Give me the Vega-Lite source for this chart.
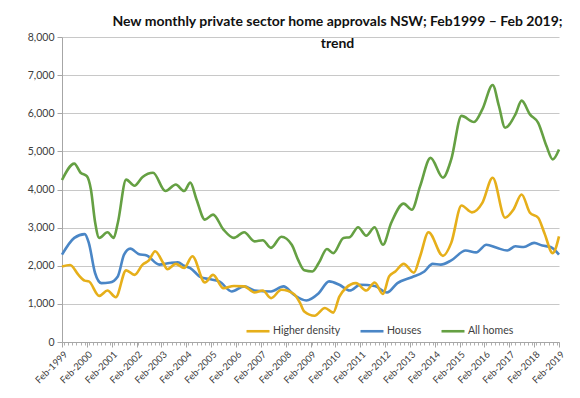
{
  "$schema": "https://vega.github.io/schema/vega-lite/v6.json",
  "width": 497,
  "height": 305,
  "autosize": "none",
  "padding": {"left": 62, "top": 37, "right": 21, "bottom": 56},
  "background": "white",
  "title": {
    "text": ["New monthly private sector home approvals NSW; Feb1999 – Feb 2019;", "trend"],
    "anchor": "middle",
    "dx": 27,
    "offset": -19,
    "font": "Lato",
    "fontSize": 14,
    "fontWeight": "bold",
    "color": "#111111",
    "lineHeight": 22
  },
  "config": {
    "view": {"stroke": null},
    "font": "Lato"
  },
  "data": {
    "values": [
      {"date": "1999-02-01", "series": "All homes", "value": 4250},
      {"date": "1999-08-01", "series": "All homes", "value": 4680},
      {"date": "1999-11-01", "series": "All homes", "value": 4440},
      {"date": "2000-02-01", "series": "All homes", "value": 4350},
      {"date": "2000-04-01", "series": "All homes", "value": 4000},
      {"date": "2000-06-01", "series": "All homes", "value": 3150},
      {"date": "2000-08-01", "series": "All homes", "value": 2730},
      {"date": "2000-12-01", "series": "All homes", "value": 2880},
      {"date": "2001-03-01", "series": "All homes", "value": 2730},
      {"date": "2001-05-01", "series": "All homes", "value": 3120},
      {"date": "2001-09-01", "series": "All homes", "value": 4260},
      {"date": "2002-01-01", "series": "All homes", "value": 4100},
      {"date": "2002-05-01", "series": "All homes", "value": 4330},
      {"date": "2002-10-01", "series": "All homes", "value": 4440},
      {"date": "2003-04-01", "series": "All homes", "value": 3960},
      {"date": "2003-09-01", "series": "All homes", "value": 4130},
      {"date": "2004-01-01", "series": "All homes", "value": 3960},
      {"date": "2004-04-01", "series": "All homes", "value": 4180},
      {"date": "2004-07-01", "series": "All homes", "value": 3740},
      {"date": "2004-11-01", "series": "All homes", "value": 3210},
      {"date": "2005-03-01", "series": "All homes", "value": 3340},
      {"date": "2005-08-01", "series": "All homes", "value": 2950},
      {"date": "2006-01-01", "series": "All homes", "value": 2730},
      {"date": "2006-06-01", "series": "All homes", "value": 2880},
      {"date": "2006-11-01", "series": "All homes", "value": 2640},
      {"date": "2007-03-01", "series": "All homes", "value": 2670},
      {"date": "2007-07-01", "series": "All homes", "value": 2470},
      {"date": "2007-12-01", "series": "All homes", "value": 2760},
      {"date": "2008-05-01", "series": "All homes", "value": 2550},
      {"date": "2008-08-01", "series": "All homes", "value": 2160},
      {"date": "2008-11-01", "series": "All homes", "value": 1880},
      {"date": "2009-03-01", "series": "All homes", "value": 1850},
      {"date": "2009-06-01", "series": "All homes", "value": 2070},
      {"date": "2009-10-01", "series": "All homes", "value": 2440},
      {"date": "2010-01-01", "series": "All homes", "value": 2330},
      {"date": "2010-06-01", "series": "All homes", "value": 2730},
      {"date": "2010-09-01", "series": "All homes", "value": 2750},
      {"date": "2011-01-01", "series": "All homes", "value": 3010},
      {"date": "2011-05-01", "series": "All homes", "value": 2790},
      {"date": "2011-09-01", "series": "All homes", "value": 3010},
      {"date": "2012-01-01", "series": "All homes", "value": 2550},
      {"date": "2012-05-01", "series": "All homes", "value": 3120},
      {"date": "2012-11-01", "series": "All homes", "value": 3630},
      {"date": "2013-03-01", "series": "All homes", "value": 3470},
      {"date": "2013-07-01", "series": "All homes", "value": 4090},
      {"date": "2013-12-01", "series": "All homes", "value": 4830},
      {"date": "2014-06-01", "series": "All homes", "value": 4310},
      {"date": "2014-10-01", "series": "All homes", "value": 4790},
      {"date": "2015-03-01", "series": "All homes", "value": 5930},
      {"date": "2015-09-01", "series": "All homes", "value": 5770},
      {"date": "2016-01-01", "series": "All homes", "value": 6100},
      {"date": "2016-06-01", "series": "All homes", "value": 6740},
      {"date": "2016-09-01", "series": "All homes", "value": 6190},
      {"date": "2016-12-01", "series": "All homes", "value": 5620},
      {"date": "2017-05-01", "series": "All homes", "value": 5970},
      {"date": "2017-08-01", "series": "All homes", "value": 6330},
      {"date": "2017-12-01", "series": "All homes", "value": 5970},
      {"date": "2018-04-01", "series": "All homes", "value": 5750},
      {"date": "2018-08-01", "series": "All homes", "value": 5140},
      {"date": "2018-11-01", "series": "All homes", "value": 4790},
      {"date": "2019-02-01", "series": "All homes", "value": 5050},

      {"date": "1999-02-01", "series": "Houses", "value": 2290},
      {"date": "1999-08-01", "series": "Houses", "value": 2730},
      {"date": "2000-01-01", "series": "Houses", "value": 2830},
      {"date": "2000-03-01", "series": "Houses", "value": 2600},
      {"date": "2000-06-01", "series": "Houses", "value": 1810},
      {"date": "2000-09-01", "series": "Houses", "value": 1545},
      {"date": "2001-01-01", "series": "Houses", "value": 1560},
      {"date": "2001-05-01", "series": "Houses", "value": 1720},
      {"date": "2001-08-01", "series": "Houses", "value": 2290},
      {"date": "2001-11-01", "series": "Houses", "value": 2450},
      {"date": "2002-03-01", "series": "Houses", "value": 2310},
      {"date": "2002-07-01", "series": "Houses", "value": 2270},
      {"date": "2003-01-01", "series": "Houses", "value": 2030},
      {"date": "2003-06-01", "series": "Houses", "value": 2070},
      {"date": "2003-10-01", "series": "Houses", "value": 2090},
      {"date": "2004-01-01", "series": "Houses", "value": 2000},
      {"date": "2004-04-01", "series": "Houses", "value": 1940},
      {"date": "2004-09-01", "series": "Houses", "value": 1700},
      {"date": "2005-01-01", "series": "Houses", "value": 1650},
      {"date": "2005-06-01", "series": "Houses", "value": 1590},
      {"date": "2005-12-01", "series": "Houses", "value": 1325},
      {"date": "2006-06-01", "series": "Houses", "value": 1460},
      {"date": "2006-11-01", "series": "Houses", "value": 1350},
      {"date": "2007-07-01", "series": "Houses", "value": 1325},
      {"date": "2008-01-01", "series": "Houses", "value": 1460},
      {"date": "2008-06-01", "series": "Houses", "value": 1240},
      {"date": "2008-12-01", "series": "Houses", "value": 1090},
      {"date": "2009-06-01", "series": "Houses", "value": 1280},
      {"date": "2009-11-01", "series": "Houses", "value": 1590},
      {"date": "2010-04-01", "series": "Houses", "value": 1500},
      {"date": "2010-09-01", "series": "Houses", "value": 1350},
      {"date": "2011-02-01", "series": "Houses", "value": 1500},
      {"date": "2011-09-01", "series": "Houses", "value": 1470},
      {"date": "2012-03-01", "series": "Houses", "value": 1300},
      {"date": "2012-08-01", "series": "Houses", "value": 1545},
      {"date": "2013-03-01", "series": "Houses", "value": 1700},
      {"date": "2013-09-01", "series": "Houses", "value": 1850},
      {"date": "2014-01-01", "series": "Houses", "value": 2050},
      {"date": "2014-05-01", "series": "Houses", "value": 2030},
      {"date": "2014-10-01", "series": "Houses", "value": 2140},
      {"date": "2015-05-01", "series": "Houses", "value": 2400},
      {"date": "2015-10-01", "series": "Houses", "value": 2350},
      {"date": "2016-03-01", "series": "Houses", "value": 2550},
      {"date": "2016-08-01", "series": "Houses", "value": 2470},
      {"date": "2017-01-01", "series": "Houses", "value": 2400},
      {"date": "2017-05-01", "series": "Houses", "value": 2510},
      {"date": "2017-09-01", "series": "Houses", "value": 2490},
      {"date": "2018-02-01", "series": "Houses", "value": 2600},
      {"date": "2018-06-01", "series": "Houses", "value": 2530},
      {"date": "2018-10-01", "series": "Houses", "value": 2490},
      {"date": "2019-02-01", "series": "Houses", "value": 2290},

      {"date": "1999-02-01", "series": "Higher density", "value": 1980},
      {"date": "1999-06-01", "series": "Higher density", "value": 2020},
      {"date": "1999-10-01", "series": "Higher density", "value": 1760},
      {"date": "2000-01-01", "series": "Higher density", "value": 1610},
      {"date": "2000-03-01", "series": "Higher density", "value": 1590},
      {"date": "2000-08-01", "series": "Higher density", "value": 1210},
      {"date": "2000-12-01", "series": "Higher density", "value": 1350},
      {"date": "2001-04-01", "series": "Higher density", "value": 1175},
      {"date": "2001-09-01", "series": "Higher density", "value": 1880},
      {"date": "2002-01-01", "series": "Higher density", "value": 1760},
      {"date": "2002-05-01", "series": "Higher density", "value": 2030},
      {"date": "2002-08-01", "series": "Higher density", "value": 2140},
      {"date": "2002-11-01", "series": "Higher density", "value": 2380},
      {"date": "2003-03-01", "series": "Higher density", "value": 2070},
      {"date": "2003-05-01", "series": "Higher density", "value": 1910},
      {"date": "2003-09-01", "series": "Higher density", "value": 2050},
      {"date": "2004-01-01", "series": "Higher density", "value": 1940},
      {"date": "2004-05-01", "series": "Higher density", "value": 2250},
      {"date": "2004-11-01", "series": "Higher density", "value": 1560},
      {"date": "2005-03-01", "series": "Higher density", "value": 1760},
      {"date": "2005-08-01", "series": "Higher density", "value": 1410},
      {"date": "2006-01-01", "series": "Higher density", "value": 1470},
      {"date": "2006-06-01", "series": "Higher density", "value": 1460},
      {"date": "2006-11-01", "series": "Higher density", "value": 1300},
      {"date": "2007-03-01", "series": "Higher density", "value": 1350},
      {"date": "2007-07-01", "series": "Higher density", "value": 1150},
      {"date": "2007-12-01", "series": "Higher density", "value": 1370},
      {"date": "2008-06-01", "series": "Higher density", "value": 1260},
      {"date": "2008-09-01", "series": "Higher density", "value": 1020},
      {"date": "2008-11-01", "series": "Higher density", "value": 800},
      {"date": "2009-04-01", "series": "Higher density", "value": 690},
      {"date": "2009-09-01", "series": "Higher density", "value": 890},
      {"date": "2010-01-01", "series": "Higher density", "value": 770},
      {"date": "2010-04-01", "series": "Higher density", "value": 1190},
      {"date": "2010-07-01", "series": "Higher density", "value": 1410},
      {"date": "2010-12-01", "series": "Higher density", "value": 1545},
      {"date": "2011-05-01", "series": "Higher density", "value": 1350},
      {"date": "2011-09-01", "series": "Higher density", "value": 1560},
      {"date": "2012-01-01", "series": "Higher density", "value": 1260},
      {"date": "2012-04-01", "series": "Higher density", "value": 1720},
      {"date": "2012-07-01", "series": "Higher density", "value": 1850},
      {"date": "2012-11-01", "series": "Higher density", "value": 2050},
      {"date": "2013-04-01", "series": "Higher density", "value": 1820},
      {"date": "2013-07-01", "series": "Higher density", "value": 2250},
      {"date": "2013-11-01", "series": "Higher density", "value": 2880},
      {"date": "2014-06-01", "series": "Higher density", "value": 2260},
      {"date": "2014-10-01", "series": "Higher density", "value": 2600},
      {"date": "2015-03-01", "series": "Higher density", "value": 3580},
      {"date": "2015-08-01", "series": "Higher density", "value": 3400},
      {"date": "2016-01-01", "series": "Higher density", "value": 3650},
      {"date": "2016-06-01", "series": "Higher density", "value": 4310},
      {"date": "2016-12-01", "series": "Higher density", "value": 3260},
      {"date": "2017-04-01", "series": "Higher density", "value": 3470},
      {"date": "2017-08-01", "series": "Higher density", "value": 3870},
      {"date": "2017-12-01", "series": "Higher density", "value": 3390},
      {"date": "2018-04-01", "series": "Higher density", "value": 3260},
      {"date": "2018-07-01", "series": "Higher density", "value": 2860},
      {"date": "2018-11-01", "series": "Higher density", "value": 2330},
      {"date": "2019-02-01", "series": "Higher density", "value": 2770}
    ]
  },
  "encoding": {
    "y": {
      "field": "value",
      "type": "quantitative",
      "scale": {"domain": [0, 8000], "nice": false},
      "axis": {
        "title": null,
        "values": [0, 1000, 2000, 3000, 4000, 5000, 6000, 7000, 8000],
        "format": ",.0f",
        "grid": true,
        "gridColor": "#c8c8c8",
        "gridWidth": 1,
        "domainColor": "#a6a6a6",
        "tickColor": "#a6a6a6",
        "tickSize": 5,
        "labelFont": "Lato",
        "labelFontSize": 10.5,
        "labelColor": "#404040",
        "labelPadding": 3
      }
    }
  },
  "resolve": {"axis": {"x": "independent"}},
  "layer": [
    {
      "mark": {"type": "line", "interpolate": "monotone", "strokeWidth": 2.6},
      "encoding": {
        "x": {
          "field": "date",
          "type": "temporal",
          "scale": {"type": "utc", "domain": [{"year": 1999, "month": 2, "date": 1, "utc": true}, {"year": 2019, "month": 2, "date": 1, "utc": true}], "nice": false},
          "axis": {
            "orient": "bottom",
            "title": null,
            "labels": false,
            "grid": false,
            "domain": true,
            "domainColor": "#a6a6a6",
            "tickColor": "#b0b0b0",
            "tickSize": 3,
            "tickCount": {"interval": "month", "step": 2}
          }
        },
        "color": {
          "field": "series",
          "type": "nominal",
          "scale": {"domain": ["Higher density", "Houses", "All homes"], "range": ["#E6AF1A", "#4A86C6", "#65A043"]},
          "legend": {
            "title": null,
            "orient": "none",
            "direction": "horizontal",
            "legendX": 183,
            "legendY": 281,
            "symbolType": "stroke",
            "symbolSize": 529,
            "symbolStrokeWidth": 2.6,
            "labelFont": "Lato",
            "labelFontSize": 10.5,
            "labelColor": "#404040",
            "labelOffset": 2,
            "columnPadding": 14
          }
        }
      }
    },
    {
      "mark": {"type": "line", "strokeOpacity": 0},
      "encoding": {
        "x": {
          "field": "date",
          "type": "temporal",
          "axis": {
            "orient": "bottom",
            "title": null,
            "grid": false,
            "domain": false,
            "tickColor": "#a6a6a6",
            "tickSize": 5,
            "values": [
              {"year": 1999, "month": 2, "date": 1, "utc": true},
              {"year": 2000, "month": 2, "date": 1, "utc": true},
              {"year": 2001, "month": 2, "date": 1, "utc": true},
              {"year": 2002, "month": 2, "date": 1, "utc": true},
              {"year": 2003, "month": 2, "date": 1, "utc": true},
              {"year": 2004, "month": 2, "date": 1, "utc": true},
              {"year": 2005, "month": 2, "date": 1, "utc": true},
              {"year": 2006, "month": 2, "date": 1, "utc": true},
              {"year": 2007, "month": 2, "date": 1, "utc": true},
              {"year": 2008, "month": 2, "date": 1, "utc": true},
              {"year": 2009, "month": 2, "date": 1, "utc": true},
              {"year": 2010, "month": 2, "date": 1, "utc": true},
              {"year": 2011, "month": 2, "date": 1, "utc": true},
              {"year": 2012, "month": 2, "date": 1, "utc": true},
              {"year": 2013, "month": 2, "date": 1, "utc": true},
              {"year": 2014, "month": 2, "date": 1, "utc": true},
              {"year": 2015, "month": 2, "date": 1, "utc": true},
              {"year": 2016, "month": 2, "date": 1, "utc": true},
              {"year": 2017, "month": 2, "date": 1, "utc": true},
              {"year": 2018, "month": 2, "date": 1, "utc": true},
              {"year": 2019, "month": 2, "date": 1, "utc": true}
            ],
            "format": "%b-%Y",
            "labelAngle": -45,
            "labelFont": "Lato",
            "labelFontSize": 9.5,
            "labelColor": "#404040",
            "labelPadding": 2,
            "labelOverlap": false,
            "labelBound": false,
            "labelFlush": false
          }
        }
      }
    }
  ]
}
